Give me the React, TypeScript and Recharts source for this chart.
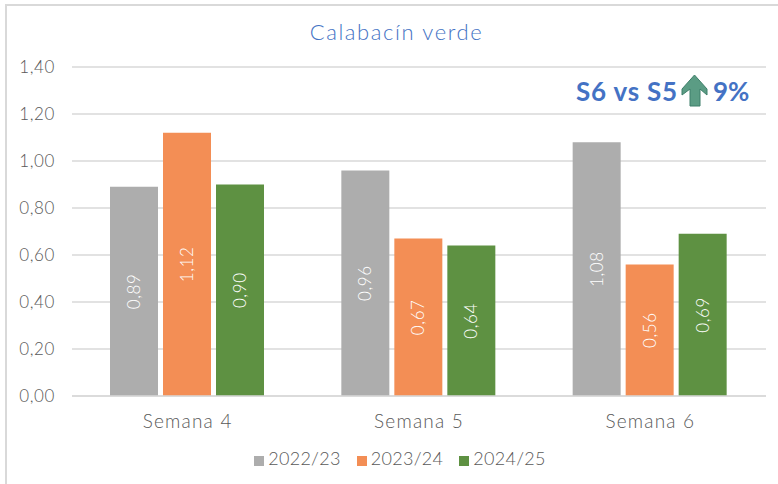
import React from "react";
import { BarChart, Bar, XAxis, YAxis, CartesianGrid, Legend, LabelList } from "recharts";

const weeks = ["Semana 4", "Semana 5", "Semana 6"];
const season2223 = [0.89, 0.96, 1.08];
const season2324 = [1.12, 0.67, 0.56];
const season2425 = [0.9, 0.64, 0.69];
const yTicks = [0, 0.2, 0.4, 0.6, 0.8, 1.0, 1.2, 1.4];

const data = weeks.map((week, i) => ({
  week,
  "2022/23": season2223[i],
  "2023/24": season2324[i],
  "2024/25": season2425[i],
}));

const font = "Lato, sans-serif";
const comma = (v: any) => Number(v).toFixed(2).replace(".", ",");

const labelProps = {
  position: "center" as const,
  angle: -90,
  fill: "#ffffff",
  fontSize: 17,
  fontWeight: 300,
  letterSpacing: 0.6,
  formatter: comma,
};

const App = () => {
  return (
    <div style={{ position: "absolute", left: 0, top: 0, width: 778, height: 484, background: "#fff", overflow: "hidden", fontFamily: font }}>
      <div style={{ position: "absolute", left: 5, top: 4, width: 780, height: 490, border: "2px solid #d9d9d9", boxSizing: "border-box" }} />
      <div style={{ position: "absolute", left: 0, top: 18, width: 793, textAlign: "center", fontSize: 22, fontWeight: 300, color: "#4472c4", letterSpacing: 1.6 }}>
        Calabacín verde
      </div>

      <div style={{ position: "absolute", left: 0, top: 0 }}>
        <BarChart
          width={778}
          height={484}
          data={data}
          margin={{ top: 67, right: 12, bottom: 36, left: 12 }}
          barCategoryGap={38}
          barGap={5}
        >
          <CartesianGrid horizontal vertical={false} stroke="#d9d9d9" strokeWidth={1.5} />
          <XAxis
            dataKey="week"
            axisLine={{ stroke: "#d9d9d9", strokeWidth: 1.5 }}
            tickLine={false}
            tick={{ fill: "#595959", fontSize: 19, fontWeight: 300, fontFamily: font, letterSpacing: 1.2 }}
            tickMargin={13}
          />
          <YAxis
            width={60}
            domain={[0, 1.4]}
            ticks={yTicks}
            axisLine={false}
            tickLine={false}
            tickFormatter={comma}
            tickMargin={11}
            tick={{ fill: "#595959", fontSize: 17, fontWeight: 300, fontFamily: font, letterSpacing: 0.6 }}
          />
          <Legend
            verticalAlign="bottom"
            iconType="square"
            iconSize={10}
            wrapperStyle={{ left: 0, width: 816, bottom: 15, fontSize: 18, fontWeight: 300, fontFamily: font, letterSpacing: 0.3 }}
            formatter={(value: any) => <span style={{ color: "#595959", paddingRight: 6 }}>{value}</span>}
          />
          <Bar dataKey="2022/23" fill="#adadad" isAnimationActive={false}>
            <LabelList dataKey="2022/23" {...labelProps} />
          </Bar>
          <Bar dataKey="2023/24" fill="#f38e55" isAnimationActive={false}>
            <LabelList dataKey="2023/24" {...labelProps} />
          </Bar>
          <Bar dataKey="2024/25" fill="#5e9142" isAnimationActive={false}>
            <LabelList dataKey="2024/25" {...labelProps} />
          </Bar>
        </BarChart>
      </div>

      <div style={{ position: "absolute", left: 576, top: 75, fontSize: 26, fontWeight: 700, color: "#4472c4", whiteSpace: "nowrap", letterSpacing: 0.8 }}>
        S6 vs S5
      </div>
      <svg style={{ position: "absolute", left: 681, top: 74 }} width={30} height={34} viewBox="0 0 30 34">
        <path d="M13.5 1 L26 15 L26 21 L19 15 L19 32 L9 32 L9 15 L1 21 L1 15 Z" fill="#5b9c84" stroke="#3f7f6a" strokeWidth={1} />
      </svg>
      <div style={{ position: "absolute", left: 713, top: 75, fontSize: 26, fontWeight: 700, color: "#4472c4", whiteSpace: "nowrap" }}>
        9%
      </div>
    </div>
  );
};

export default App;
